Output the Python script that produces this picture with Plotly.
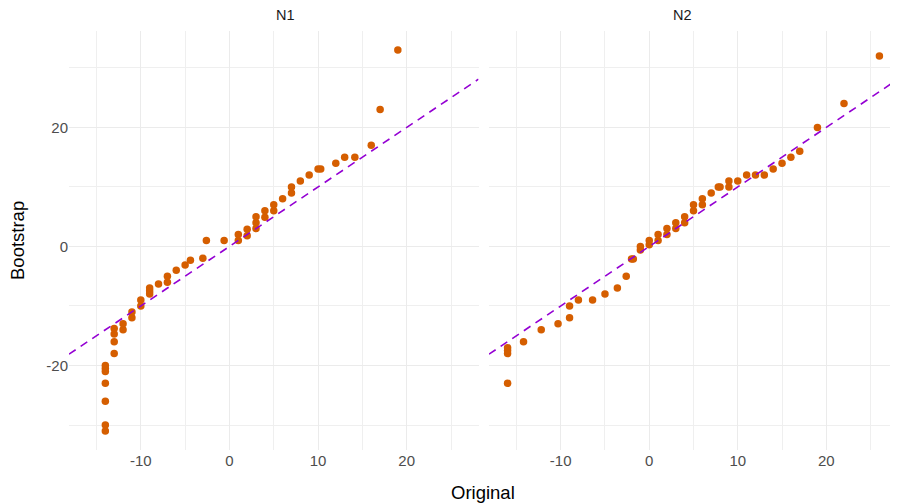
import plotly.graph_objects as go
from plotly.subplots import make_subplots

# ---- data ----
n1_original = [-14, -14, -14, -14, -14, -14, -14,
               -13, -13, -13, -13,
               -12, -12, -11, -11, -10, -10,
               -9, -9, -9, -8, -7, -7, -6,
               -5, -4.4, -3, -2.6, -0.6,
               1, 1, 2, 2, 3, 3, 3, 4, 4, 5, 5, 6, 7, 7,
               8, 9, 10, 10.3, 12, 13, 14.15, 16, 17, 19]
n1_bootstrap = [-31, -30, -26, -23, -21, -20.5, -20,
                -18, -16, -14.7, -13.8,
                -14, -13, -12, -11, -10, -9,
                -8, -7.5, -7, -6.3, -6, -5, -4,
                -3.1, -2.3, -2, 1, 1,
                1, 2, 1.8, 2.9, 3, 4, 5, 4.9, 6, 6, 7, 8, 9, 10,
                11, 12, 13, 13, 14, 15, 15, 17, 23, 33]

n2_original = [-16, -16, -16, -16,
               -14.2, -12.2, -10.3, -9, -9, -8, -6.4, -5, -3.6, -2.6,
               -2, -1.8, -1, -1, 0, 0, 1, 1, 2, 2, 3, 3, 4, 4,
               5, 5, 6, 6, 7, 7.8, 8, 9, 9, 10, 11, 12, 13,
               14, 15, 16, 17, 19, 22, 26]
n2_bootstrap = [-23, -18, -17.5, -17,
                -16, -14, -13, -12, -10, -9, -9, -8, -7, -5,
                -2.1, -2.1, -0.6, 0, 0.3, 1, 1, 2, 2, 3, 3, 4, 4, 5,
                6, 7, 7, 8, 9, 10, 10, 10, 11, 11, 12, 12, 12,
                13, 14, 15, 16, 20, 24, 32]

panels = ["N1", "N2"]
x_major_ticks = [-10, 0, 10, 20]
x_tick_labels = ["-10", "0", "10", "20"]
x_minor_ticks = [-15, -5, 5, 15, 25]
y_major_ticks = [-20, 0, 20]
y_tick_labels = ["-20", "0", "20"]
y_minor_ticks = [-30, -10, 10, 30]
x_range = [-18.1, 28.1]
y_range = [-34.2, 36.2]
ref_slope = 1
ref_intercept = 0

# ---- styles ----
POINT_COLOR = "#D55E00"
LINE_COLOR = "#9400D3"
GRID = "#EBEBEB"
FONT = "Liberation Sans, Arial, sans-serif"

# page body has an 8px margin: figure is drawn 8px shifted
OFF = 8
FIG_W, FIG_H = 898 - OFF, 504 - OFF
L, R, T, B = 69 - OFF, 0, 31 - OFF, 504 - 450
W = FIG_W - L - R

fig = make_subplots(rows=1, cols=2, shared_yaxes=True, horizontal_spacing=0.0125)

series = [(n1_original, n1_bootstrap), (n2_original, n2_bootstrap)]
line_x = x_range
line_y = [ref_slope * v + ref_intercept for v in line_x]

for i, (xs, ys) in enumerate(series, start=1):
    fig.add_trace(go.Scatter(x=xs, y=ys, mode="markers",
                             marker=dict(color=POINT_COLOR, size=7.5, line=dict(width=0)),
                             showlegend=False, hoverinfo="x+y"), row=1, col=i)
    fig.add_trace(go.Scatter(x=line_x, y=line_y, mode="lines",
                             line=dict(color=LINE_COLOR, width=1.6, dash="8px,6px"),
                             showlegend=False, hoverinfo="skip"), row=1, col=i)

axis_common = dict(showline=False, zeroline=False, ticks="",
                   tickfont=dict(family=FONT, size=15, color="#4D4D4D"),
                   showgrid=True, gridcolor=GRID, gridwidth=1.1)

for i in (1, 2):
    fig.update_xaxes(range=x_range, tickvals=x_major_ticks, ticktext=x_tick_labels,
                     minor=dict(tickvals=x_minor_ticks, showgrid=True,
                                gridcolor="#EFEFEF", gridwidth=1),
                     **axis_common, row=1, col=i)
    fig.update_yaxes(range=y_range, tickvals=y_major_ticks, ticktext=y_tick_labels,
                     minor=dict(tickvals=y_minor_ticks, showgrid=True,
                                gridcolor="#EFEFEF", gridwidth=1),
                     **axis_common, row=1, col=i)

fig.update_yaxes(showticklabels=False, row=1, col=2)

fig.update_layout(
    xaxis=dict(domain=[0, (478.5 - OFF - L) / W]),
    xaxis2=dict(domain=[(489 - OFF - L) / W, 1]),
)

annotations = []
for name, dom in zip(panels, [fig.layout.xaxis.domain, fig.layout.xaxis2.domain]):
    annotations.append(dict(text=name, x=(dom[0] + dom[1]) / 2, y=1, xref="paper", yref="paper",
                            yanchor="bottom", yshift=6, showarrow=False,
                            font=dict(family=FONT, size=14.5, color="#1A1A1A")))
annotations.append(dict(text="Original", x=(483 - OFF - L) / W, y=0, xref="paper", yref="paper",
                        yanchor="top", yshift=-30, showarrow=False,
                        font=dict(family=FONT, size=18.5, color="black")))
annotations.append(dict(text="Bootstrap", x=0, y=0.5, xref="paper", yref="paper",
                        xanchor="right", xshift=-39, textangle=-90, showarrow=False,
                        font=dict(family=FONT, size=18.5, color="black")))

fig.update_layout(
    width=FIG_W, height=FIG_H,
    margin=dict(l=L, r=R, t=T, b=B),
    paper_bgcolor="white", plot_bgcolor="white",
    annotations=annotations,
    font=dict(family=FONT),
)

fig.write_html("out.html")
